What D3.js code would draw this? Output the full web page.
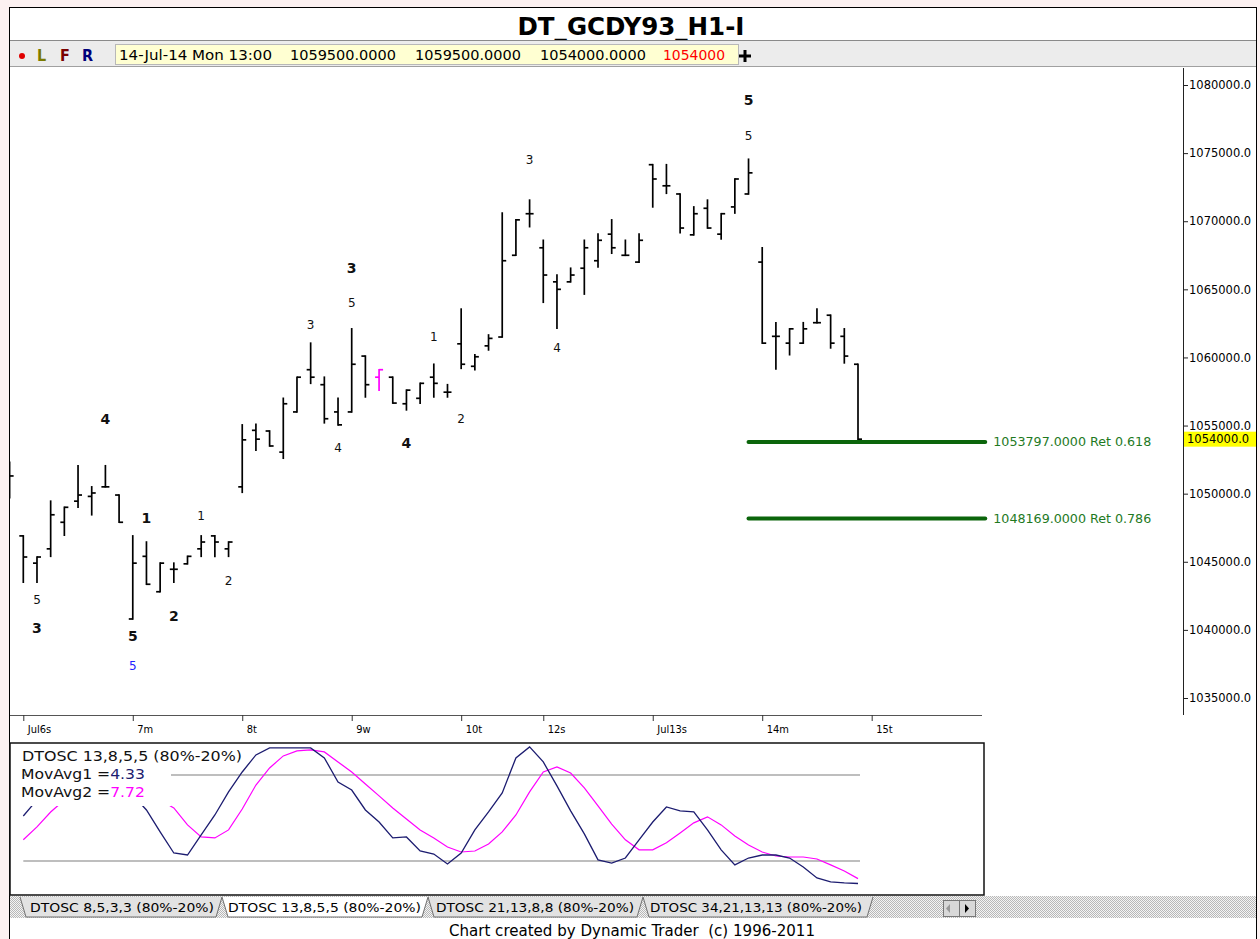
<!DOCTYPE html>
<html>
<head>
<meta charset="utf-8">
<script src="https://cdn.jsdelivr.net/npm/d3@7"></script>
<style>
body { margin: 0; background: #fcf1f1; }
svg { display: block; }
text { font-family: "DejaVu Sans Condensed", "DejaVu Sans", sans-serif; }
</style>
</head>
<body>
<svg id="chart" width="1260" height="939"></svg>
<script>
// hourly bars, first one (index -1) is cut by the left border
var barStart = -1;
var opens = [1050250,
    1046900, 1044900, 1045950, 1047900, 1049450, 1049800, 1050500, 1049900, 1040800, 1045400,
    1042800, 1044450, 1044850, 1045950, 1046900, 1045950, 1050500, 1054650, 1054600, 1053050,
    1056000, 1059100, 1058000, 1056000, 1056000, 1060100, 1058550, 1058550, 1056600, 1057000,
    1058550, 1057450, 1061000, 1059350, 1060850, 1061500, 1067500, 1070550, 1068050, 1065550,
    1065550, 1066550, 1067100, 1069050, 1067500, 1067000, 1074150, 1072600, 1072000, 1069000,
    1070950, 1069050, 1071050, 1072000, 1067000, 1061550, 1061050, 1061050, 1062550, 1063100,
    1061550, 1059500];
var highs = [1052300,
    1046900, 1045350, 1049450, 1049000, 1052050, 1050500, 1052050, 1049900, 1046900, 1046450,
    1044900, 1044900, 1045400, 1046900, 1046900, 1046450, 1055050, 1055100, 1054600, 1057000,
    1058550, 1061050, 1058550, 1057000, 1062100, 1060100, 1059100, 1058550, 1057600, 1058100,
    1059500, 1058000, 1063550, 1060200, 1061650, 1070600, 1070100, 1071550, 1068600, 1066050,
    1066550, 1068600, 1069050, 1070100, 1068600, 1069050, 1074150, 1074150, 1072000, 1071050,
    1071550, 1070550, 1073100, 1074550, 1068050, 1062550, 1062100, 1062550, 1063550, 1063100,
    1062100, 1059500];
var lows = [1049700,
    1043500, 1043500, 1045400, 1046950, 1049000, 1048450, 1050500, 1047900, 1040800, 1043350,
    1042800, 1043500, 1044850, 1045400, 1045400, 1045400, 1050100, 1053200, 1053500, 1052600,
    1056000, 1058100, 1055200, 1055050, 1056000, 1057100, 1057600, 1056650, 1056150, 1056650,
    1057100, 1057100, 1059200, 1059100, 1060550, 1061500, 1067500, 1069600, 1064050, 1062150,
    1065550, 1064650, 1066650, 1067650, 1067500, 1067000, 1071050, 1072050, 1069150, 1069000,
    1069500, 1068700, 1070600, 1072000, 1061050, 1059150, 1060200, 1061050, 1062550, 1060700,
    1059600, 1054000];
var closes = [1051300,
    1045350, 1045350, 1048450, 1049000, 1049900, 1050050, 1050500, 1047900, 1044900, 1043350,
    1044900, 1044450, 1045400, 1046450, 1046450, 1046450, 1053950, 1054000, 1053500, 1056600,
    1058550, 1058550, 1055500, 1055050, 1059500, 1058000, 1059100, 1056650, 1057600, 1058100,
    1058100, 1057450, 1059500, 1060050, 1061400, 1067100, 1070100, 1070550, 1066050, 1065000,
    1066050, 1068050, 1068600, 1068050, 1067500, 1068600, 1073100, 1072600, 1069500, 1070550,
    1069500, 1070550, 1073100, 1073550, 1061050, 1061550, 1062100, 1062100, 1062550, 1061050,
    1060100, 1054000];
var magentaBar = 26;

var dayTicks = [0, 8, 16, 24, 32, 38, 46, 54, 62];
var dayLabels = ["Jul6s", "7m", "8t", "9w", "10t", "12s", "Jul13s", "14m", "15t"];
var priceTicks = [1035000, 1040000, 1045000, 1050000, 1055000, 1060000, 1065000, 1070000, 1075000, 1080000];
var lastPrice = 1054000;

// wave count labels: text, bar, price level, style (b bold, s small, u blue)
var waveText  = ["4", "5", "3", "1", "5", "5", "1", "2", "2", "3", "3", "5", "4", "4", "1", "2", "3", "4", "5", "5"];
var waveBar   = [6, 1, 1, 9, 8, 8, 13, 11, 15, 21, 24, 24, 23, 28, 30, 32, 37, 39, 53, 53];
var wavePrice = [1055500, 1042250, 1040150, 1048200, 1039550, 1037400, 1048350, 1041000, 1043600, 1062400,
                 1066550, 1064000, 1053400, 1053700, 1061500, 1055500, 1074500, 1060750, 1078900, 1076300];
var waveStyle = ["b", "s", "b", "b", "b", "u", "s", "b", "s", "s", "b", "s", "s", "b", "s", "s", "s", "s", "b", "s"];

// retracement levels
var fibLevels = [1053797, 1048169];
var fibRatios = [0.618, 0.786];
var fibFromBar = 53, fibToBar = 70.3;

// DTOSC 13,8,5,5
var movAvg1 = [51.4, 62.6, 69.7, 76.5, 82.1, 83.5, 80.0, 73.0, 66.1, 55.6,
    40.3, 25.6, 24.2, 38.2, 52.1, 68.2, 82.1, 94.0, 98.9, 98.9,
    98.9, 98.9, 91.9, 75.1, 69.5, 55.6, 47.2, 36.1, 36.8, 27.0,
    24.9, 17.9, 25.6, 41.7, 54.2, 67.5, 91.9, 99.6, 89.1, 72.4,
    55.0, 38.9, 20.8, 18.6, 22.1, 34.8, 47.2, 57.7, 55.0, 54.2,
    41.7, 27.8, 17.3, 22.1, 24.2, 24.2, 22.1, 15.8, 8.2, 5.4,
    4.7, 4.33];
var movAvg2 = [34.8, 43.8, 54.2, 62.6, 69.7, 75.1, 78.0, 76.5, 73.0, 68.2,
    62.6, 57.0, 45.2, 36.8, 36.1, 41.7, 56.3, 73.0, 84.9, 93.3,
    96.8, 97.5, 96.1, 89.1, 82.1, 73.7, 65.4, 57.0, 49.3, 41.7,
    36.1, 29.8, 26.3, 27.0, 31.9, 40.3, 52.1, 68.2, 82.1, 85.6,
    81.4, 71.0, 58.4, 45.8, 34.8, 27.8, 27.8, 32.7, 39.6, 46.6,
    50.8, 45.2, 37.5, 31.2, 26.3, 23.5, 22.8, 22.8, 21.4, 17.3,
    13.1, 7.72];
var oscBands = [80, 20];

var tabNames = ["DTOSC 8,5,3,3 (80%-20%)", "DTOSC 13,8,5,5 (80%-20%)", "DTOSC 21,13,8,8 (80%-20%)", "DTOSC 34,21,13,13 (80%-20%)"];
var activeTab = 1;

var svg = d3.select("#chart");

function fit(t, w) {
    return t.attr("textLength", w).attr("lengthAdjust", "spacingAndGlyphs");
}

var x = d3.scaleLinear().domain([0, 61]).range([23.3, 858]);
var y = d3.scaleLinear().domain([1035000, 1080000]).range([698, 85]);
var yo = d3.scaleLinear().domain([0, 100]).range([889.7, 746.3]);

var defs = svg.append("defs");
defs.append("clipPath").attr("id", "plotClip")
    .append("rect").attr("x", 10).attr("y", 68).attr("width", 1173).attr("height", 647);
var pat = defs.append("pattern").attr("id", "hatch").attr("width", 2).attr("height", 2)
    .attr("patternUnits", "userSpaceOnUse");
pat.append("rect").attr("width", 2).attr("height", 2).attr("fill", "#f4f4f4");
pat.append("rect").attr("width", 1).attr("height", 1).attr("fill", "#b8b8b8");
pat.append("rect").attr("x", 1).attr("y", 1).attr("width", 1).attr("height", 1).attr("fill", "#b8b8b8");

// frame
svg.append("rect").attr("x", 9.5).attr("y", 7.5).attr("width", 1247).attr("height", 940)
    .attr("fill", "#fff").attr("stroke", "#000");

// title
fit(svg.append("text").attr("x", 631).attr("y", 35).attr("text-anchor", "middle")
    .attr("font-size", 24).attr("font-weight", "bold").attr("fill", "#000")
    .text("DT_GCDY93_H1-I"), 227);

// toolbar
svg.append("rect").attr("x", 10).attr("y", 41).attr("width", 1246).attr("height", 25)
    .attr("fill", "#ececec");
svg.append("line").attr("x1", 10).attr("x2", 1256).attr("y1", 40.5).attr("y2", 40.5).attr("stroke", "#8a8a8a");
svg.append("line").attr("x1", 10).attr("x2", 1256).attr("y1", 66.5).attr("y2", 66.5).attr("stroke", "#a0a0a0");
svg.append("circle").attr("cx", 22).attr("cy", 56).attr("r", 3).attr("fill", "#e00000");
[["L", 37, "#7a7a00"], ["F", 60, "#7a0000"], ["R", 82, "#00007a"]].forEach(function (d) {
    svg.append("text").attr("x", d[1]).attr("y", 61).attr("font-size", 16).attr("font-weight", "bold")
        .attr("fill", d[2]).text(d[0]);
});
svg.append("rect").attr("x", 115.5).attr("y", 44.5).attr("width", 623).attr("height", 20)
    .attr("fill", "#ffffd2").attr("stroke", "#b8b8b8");
[["14-Jul-14 Mon 13:00", 119, 153, "#000"],
 ["1059500.0000", 290, 106, "#000"],
 ["1059500.0000", 415, 106, "#000"],
 ["1054000.0000", 540, 106, "#000"],
 ["1054000", 663, 62, "#ff0000"]].forEach(function (d) {
    fit(svg.append("text").attr("x", d[1]).attr("y", 60).attr("font-size", 14)
        .attr("fill", d[3]).text(d[0]), d[2]);
});
svg.append("path").attr("d", "M745,50V62M739,56H751").attr("stroke", "#000").attr("stroke-width", 3);

// main price panel
var plot = svg.append("g").attr("clip-path", "url(#plotClip)");

plot.selectAll("line.fib").data(fibLevels).enter().append("line").attr("class", "fib")
    .attr("x1", x(fibFromBar)).attr("x2", x(fibToBar))
    .attr("y1", function (d) { return y(d); }).attr("y2", function (d) { return y(d); })
    .attr("stroke", "#0b650b").attr("stroke-width", 4).attr("stroke-linecap", "round");
plot.selectAll("text.fib").data(fibLevels).enter().append("text").attr("class", "fib")
    .attr("x", x(fibToBar) + 8).attr("y", function (d) { return y(d); }).attr("dy", "0.35em")
    .attr("font-size", 12).attr("fill", "#1f7a1f")
    .text(function (d, i) { return d3.format(".4f")(d) + " Ret " + fibRatios[i]; })
    .each(function () { fit(d3.select(this), 158); });

var bars = plot.selectAll("g.bar").data(opens).enter().append("g").attr("class", "bar")
    .attr("stroke", function (d, i) { return barStart + i === magentaBar ? "#ff00ff" : "#000"; })
    .attr("stroke-width", 1.7);
bars.append("line")
    .attr("x1", function (d, i) { return x(barStart + i); })
    .attr("x2", function (d, i) { return x(barStart + i); })
    .attr("y1", function (d, i) { return y(highs[i]) - 0.8; })
    .attr("y2", function (d, i) { return y(lows[i]) + 0.8; });
bars.append("line")
    .attr("x1", function (d, i) { return x(barStart + i) - 4; })
    .attr("x2", function (d, i) { return x(barStart + i); })
    .attr("y1", function (d) { return y(d); })
    .attr("y2", function (d) { return y(d); });
bars.append("line")
    .attr("x1", function (d, i) { return x(barStart + i); })
    .attr("x2", function (d, i) { return x(barStart + i) + 4; })
    .attr("y1", function (d, i) { return y(closes[i]); })
    .attr("y2", function (d, i) { return y(closes[i]); });

plot.selectAll("text.wave").data(waveText).enter().append("text").attr("class", "wave")
    .attr("x", function (d, i) { return x(waveBar[i]); })
    .attr("y", function (d, i) { return y(wavePrice[i]); })
    .attr("dy", "0.36em").attr("text-anchor", "middle")
    .style("font-family", "'DejaVu Sans', sans-serif")
    .attr("font-size", function (d, i) { return waveStyle[i] === "b" ? 14 : 12; })
    .attr("font-weight", function (d, i) { return waveStyle[i] === "b" ? "bold" : "normal"; })
    .attr("fill", function (d, i) { return waveStyle[i] === "u" ? "#2222ff" : "#111"; })
    .text(function (d) { return d; });

// x axis
svg.append("line").attr("x1", 10).attr("x2", 982).attr("y1", 715.5).attr("y2", 715.5).attr("stroke", "#555");
var gx = svg.append("g").attr("transform", "translate(0,715)")
    .call(d3.axisBottom(x).tickValues(dayTicks).tickSize(6)
        .tickFormat(function (d, i) { return dayLabels[i]; }));
gx.select(".domain").remove();
gx.selectAll(".tick line").attr("stroke", "#333");
gx.selectAll(".tick text").attr("text-anchor", "start").attr("dx", 4).attr("y", 10)
    .attr("font-size", 11).attr("fill", "#000")
    .style("font-family", "'DejaVu Sans Condensed', sans-serif");

// y axis
svg.append("line").attr("x1", 1183.5).attr("x2", 1183.5).attr("y1", 68).attr("y2", 715).attr("stroke", "#222");
var gy = svg.append("g").attr("transform", "translate(1183,0)")
    .call(d3.axisRight(y).tickValues(priceTicks).tickSize(5)
        .tickFormat(function (d) { return d3.format(".1f")(d); }));
gy.select(".domain").remove();
gy.selectAll(".tick line").attr("stroke", "#222");
gy.selectAll(".tick text").attr("x", 6).attr("font-size", 11.5).attr("fill", "#000")
    .style("font-family", "'DejaVu Sans', sans-serif");
svg.append("rect").attr("x", 1184).attr("y", y(lastPrice) - 7.5).attr("width", 72).attr("height", 15)
    .attr("fill", "#ffff00");
svg.append("text").attr("x", 1187).attr("y", y(lastPrice)).attr("dy", "0.36em")
    .attr("font-size", 11.5).style("font-family", "'DejaVu Sans', sans-serif").attr("fill", "#000")
    .text(d3.format(".1f")(lastPrice));

// oscillator panel
svg.append("rect").attr("x", 10).attr("y", 743).attr("width", 974).attr("height", 152)
    .attr("fill", "#fff").attr("stroke", "#111").attr("stroke-width", 1.5);
svg.selectAll("line.band").data(oscBands).enter().append("line").attr("class", "band")
    .attr("x1", x(0)).attr("x2", x(61) + 2)
    .attr("y1", function (d) { return yo(d); }).attr("y2", function (d) { return yo(d); })
    .attr("stroke", "#a9a9a9").attr("stroke-width", 1.5);
var oscLine = d3.line().x(function (d, i) { return x(i); }).y(function (d) { return yo(d); });
svg.append("path").datum(movAvg2).attr("d", oscLine).attr("fill", "none")
    .attr("stroke", "#ff00ff").attr("stroke-width", 1.2);
svg.append("path").datum(movAvg1).attr("d", oscLine).attr("fill", "none")
    .attr("stroke", "#1c1c70").attr("stroke-width", 1.3);

// legend box hides the lines under it
svg.append("rect").attr("x", 21).attr("y", 745).attr("width", 223).attr("height", 20).attr("fill", "#fff");
svg.append("rect").attr("x", 30).attr("y", 765).attr("width", 141).attr("height", 41).attr("fill", "#fff");
fit(svg.append("text").attr("x", 22).attr("y", 761).attr("font-size", 14).attr("fill", "#111")
    .text("DTOSC 13,8,5,5 (80%-20%)"), 220);
var l1 = svg.append("text").attr("x", 21).attr("y", 779).attr("font-size", 14).attr("fill", "#111");
l1.append("tspan").text("MovAvg1 =");
l1.append("tspan").attr("fill", "#1c1c70").text(d3.format(".2f")(movAvg1[movAvg1.length - 1]));
fit(l1, 124);
var l2 = svg.append("text").attr("x", 21).attr("y", 797).attr("font-size", 14).attr("fill", "#111");
l2.append("tspan").text("MovAvg2 =");
l2.append("tspan").attr("fill", "#ff00ff").text(d3.format(".2f")(movAvg2[movAvg2.length - 1]));
fit(l2, 124);

// tab strip
svg.append("rect").attr("x", 10).attr("y", 896).attr("width", 1246).attr("height", 22).attr("fill", "url(#hatch)");
var tabX = [[20, 222], [222, 428], [428, 643], [643, 873]];
var tabText = [[30, 184], [228, 193], [436, 198], [650, 212]];
var order = [3, 2, 0, 1];
order.forEach(function (k) {
    var a = tabX[k][0], b = tabX[k][1];
    svg.append("path")
        .attr("d", "M" + a + ",897L" + (a + 6) + ",917L" + (b - 6) + ",917L" + b + ",897")
        .attr("fill", k === activeTab ? "#fff" : "#e2e2e2").attr("stroke", "#707070");
    fit(svg.append("text").attr("x", tabText[k][0]).attr("y", 912).attr("font-size", 13).attr("fill", "#000")
        .text(tabNames[k]), tabText[k][1]);
});
svg.append("rect").attr("x", 943.5).attr("y", 900.5).attr("width", 16).attr("height", 16)
    .attr("fill", "#d8d8d8").attr("stroke", "#777");
svg.append("rect").attr("x", 959.5).attr("y", 900.5).attr("width", 16).attr("height", 16)
    .attr("fill", "#d8d8d8").attr("stroke", "#777");
svg.append("path").attr("d", "M950,904L946,908.5L950,913Z").attr("fill", "#999");
svg.append("path").attr("d", "M965,904L969,908.5L965,913Z").attr("fill", "#000");

// footer
fit(svg.append("text").attr("x", 632).attr("y", 936).attr("text-anchor", "middle")
    .attr("font-size", 15).attr("fill", "#000").style("white-space", "pre")
    .text("Chart created by Dynamic Trader  (c) 1996-2011"), 366);
</script>
</body>
</html>
